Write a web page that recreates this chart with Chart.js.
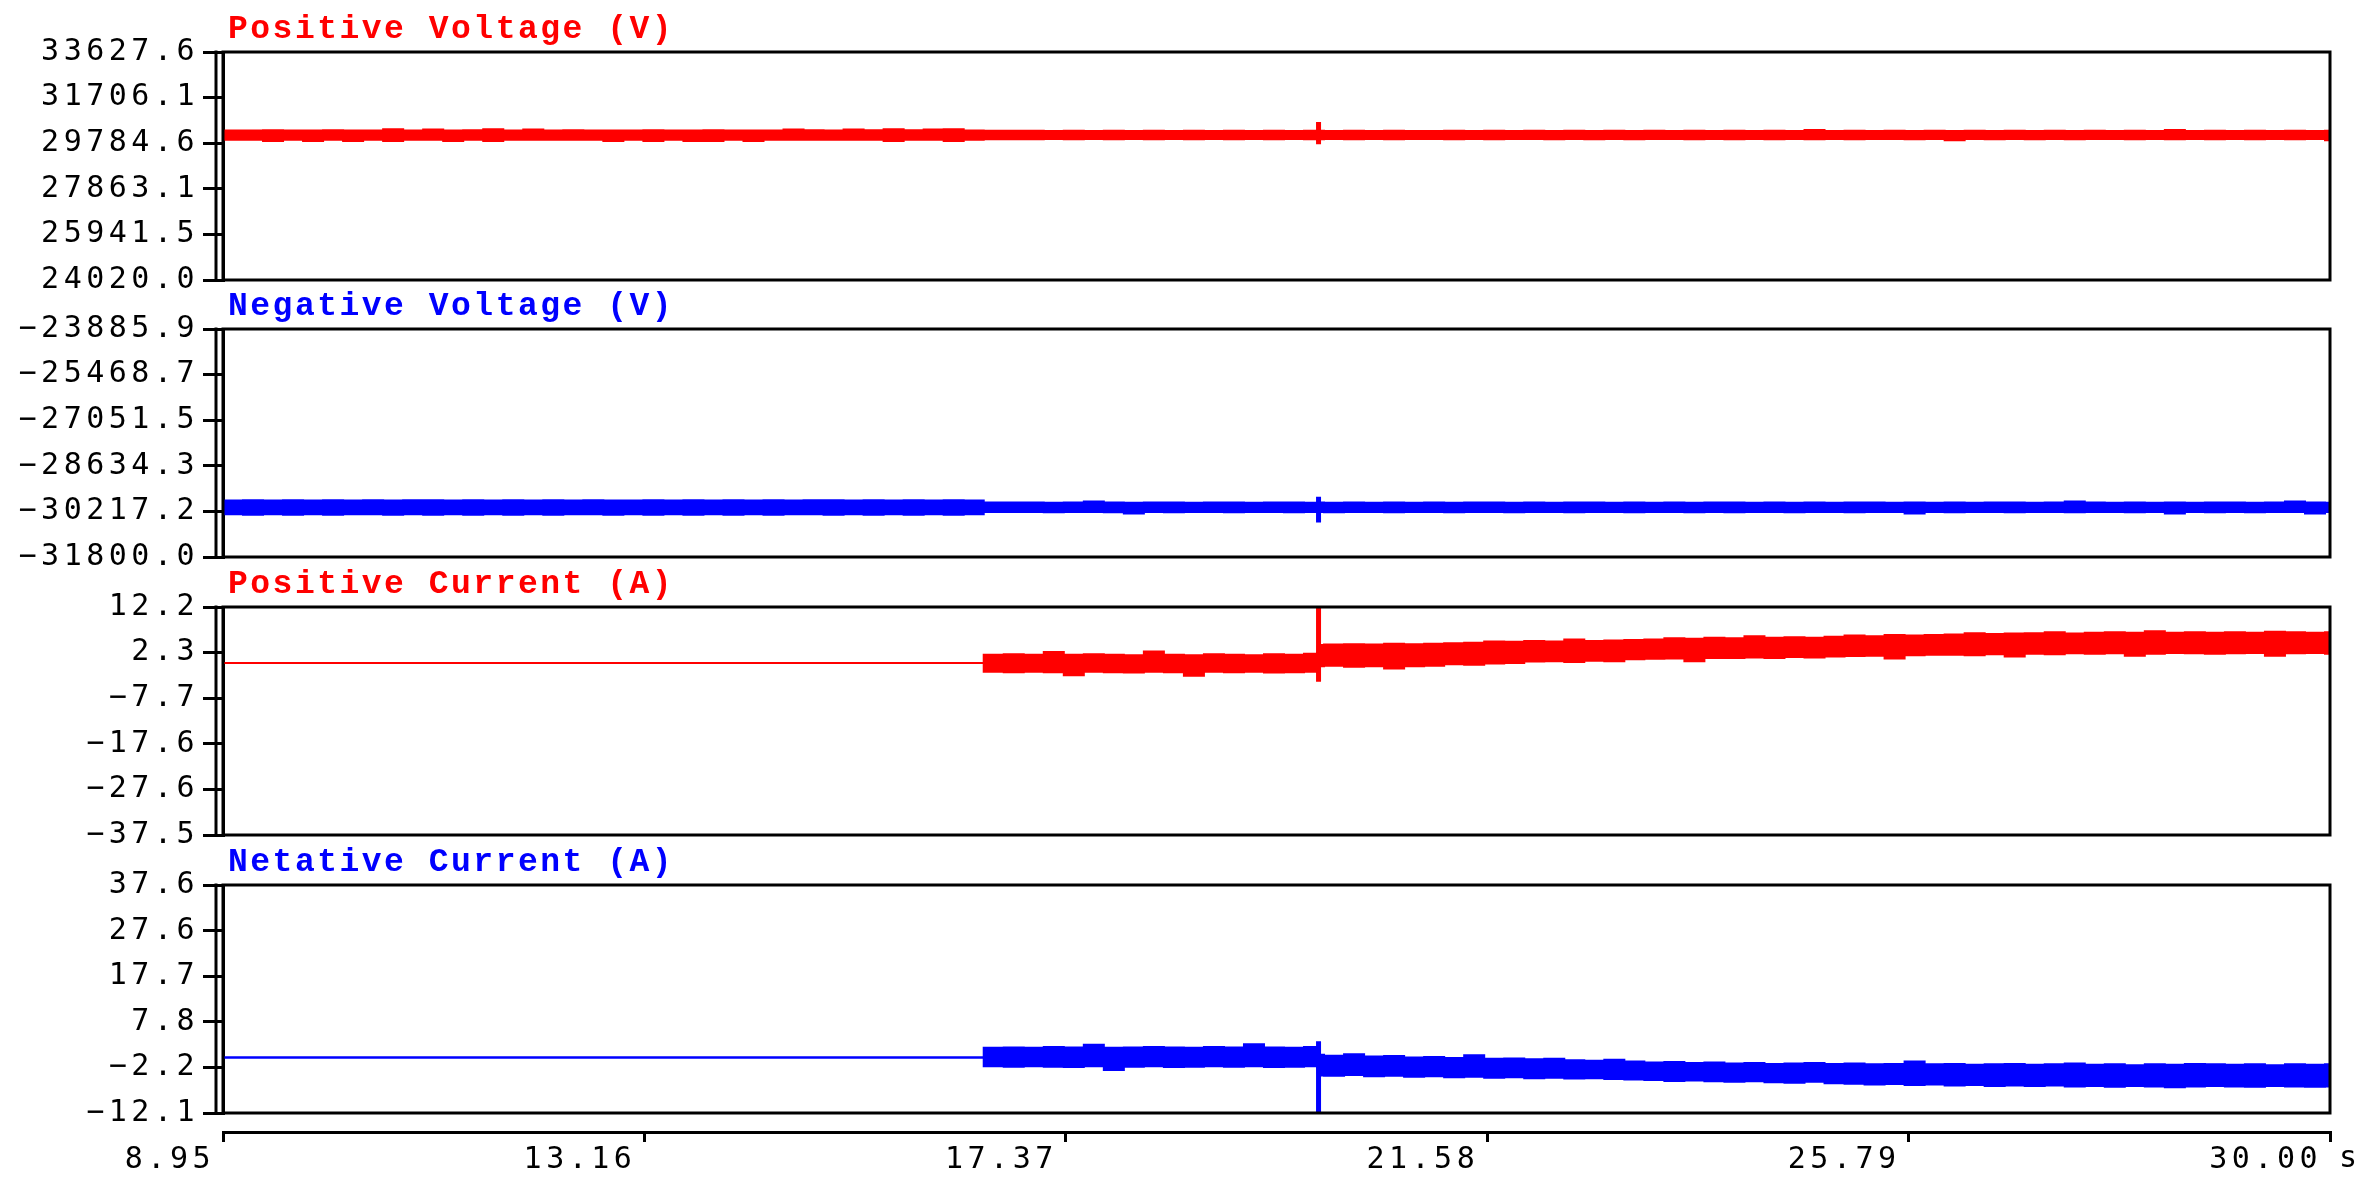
<!DOCTYPE html>
<html>
<head>
<meta charset="utf-8">
<script src="https://cdn.jsdelivr.net/npm/chart.js@4.4.0/dist/chart.umd.min.js"></script>
<style>
  body { margin: 0; background: #fff; }
  #wrap { position: relative; width: 2365px; height: 1192px; }
  canvas { position: absolute; left: 0; }
</style>
</head>
<body>
<div id="wrap">
  <canvas id="posV" width="2365" height="300" style="top:2px"></canvas>
  <canvas id="negV" width="2365" height="300" style="top:279px"></canvas>
  <canvas id="posI" width="2365" height="300" style="top:557px"></canvas>
  <canvas id="negI" width="2365" height="300" style="top:835px"></canvas>
  <canvas id="xAxis" width="2365" height="92" style="top:1100px"></canvas>
</div>
<script>
// sample times (s)
const times = [
  8.95, 9.15, 9.35, 9.55, 9.75, 9.95, 10.15, 10.35, 10.55, 10.75,
  10.95, 11.15, 11.35, 11.55, 11.75, 11.95, 12.15, 12.35, 12.55, 12.75,
  12.95, 13.15, 13.35, 13.55, 13.75, 13.95, 14.15, 14.35, 14.55, 14.75,
  14.95, 15.15, 15.35, 15.55, 15.75, 15.95, 16.15, 16.35, 16.55, 16.75,
  16.95, 17.15, 17.35, 17.55, 17.75, 17.95, 18.15, 18.35, 18.55, 18.75,
  18.95, 19.15, 19.35, 19.55, 19.75, 19.88, 19.91, 19.95, 20.15, 20.35, 20.55, 20.75,
  20.95, 21.15, 21.35, 21.55, 21.75, 21.95, 22.15, 22.35, 22.55, 22.75,
  22.95, 23.15, 23.35, 23.55, 23.75, 23.95, 24.15, 24.35, 24.55, 24.75,
  24.95, 25.15, 25.35, 25.55, 25.75, 25.95, 26.15, 26.35, 26.55, 26.75,
  26.95, 27.15, 27.35, 27.55, 27.75, 27.95, 28.15, 28.35, 28.55, 28.75,
  28.95, 29.15, 29.35, 29.55, 29.75, 29.95, 30.00
];

// Positive voltage envelope (V)
const posVHi = [
  30320, 30320, 30330, 30320, 30320, 30330, 30320, 30320, 30370, 30320,
  30360, 30320, 30330, 30370, 30320, 30360, 30320, 30330, 30320, 30320,
  30320, 30330, 30320, 30320, 30330, 30320, 30320, 30320, 30360, 30330,
  30320, 30360, 30330, 30370, 30330, 30360, 30370, 30320, 30310, 30310,
  30310, 30300, 30310, 30300, 30310, 30300, 30310, 30300, 30310, 30300,
  30310, 30300, 30310, 30300, 30310, 30640, 30310, 30300, 30310, 30300, 30310, 30300,
  30300, 30310, 30300, 30310, 30300, 30310, 30300, 30310, 30300, 30310,
  30300, 30310, 30300, 30310, 30300, 30310, 30300, 30310, 30300, 30340,
  30300, 30310, 30300, 30310, 30300, 30310, 30300, 30310, 30300, 30310,
  30300, 30310, 30300, 30310, 30300, 30310, 30300, 30340, 30300, 30310,
  30300, 30310, 30300, 30310, 30300, 30310, 30310
];
const posVLo = [
  29930, 29930, 29880, 29930, 29880, 29930, 29880, 29930, 29880, 29930,
  29930, 29880, 29930, 29880, 29930, 29930, 29930, 29930, 29930, 29880,
  29930, 29880, 29930, 29880, 29880, 29930, 29880, 29930, 29930, 29930,
  29930, 29930, 29930, 29880, 29930, 29930, 29880, 29930, 29950, 29950,
  29950, 29960, 29950, 29960, 29950, 29960, 29950, 29960, 29950, 29960,
  29950, 29960, 29950, 29960, 29950, 29780, 29950, 29960, 29950, 29960, 29950, 29960,
  29960, 29950, 29960, 29950, 29960, 29960, 29950, 29960, 29950, 29960,
  29950, 29960, 29960, 29950, 29960, 29950, 29960, 29950, 29960, 29950,
  29960, 29950, 29960, 29960, 29950, 29960, 29910, 29960, 29950, 29960,
  29950, 29960, 29950, 29960, 29960, 29950, 29960, 29950, 29960, 29950,
  29960, 29950, 29960, 29950, 29960, 29910, 29960
];

// Negative voltage envelope (V)
const negVHi = [
  -29840, -29830, -29840, -29830, -29840, -29830, -29840, -29830, -29840, -29830,
  -29830, -29840, -29830, -29840, -29830, -29840, -29830, -29840, -29830, -29840,
  -29840, -29830, -29840, -29830, -29840, -29830, -29840, -29830, -29840, -29830,
  -29830, -29840, -29830, -29840, -29830, -29840, -29830, -29840, -29910, -29910,
  -29910, -29920, -29910, -29870, -29910, -29920, -29910, -29910, -29920, -29910,
  -29910, -29920, -29910, -29910, -29920, -29740, -29910, -29920, -29910, -29920, -29910, -29920,
  -29910, -29920, -29910, -29910, -29920, -29910, -29920, -29910, -29910, -29920,
  -29910, -29920, -29910, -29920, -29910, -29910, -29920, -29910, -29920, -29910,
  -29920, -29910, -29910, -29920, -29910, -29920, -29910, -29920, -29910, -29910,
  -29920, -29910, -29870, -29910, -29920, -29910, -29920, -29910, -29920, -29910,
  -29910, -29920, -29910, -29870, -29910, -29920, -29910
];
const negVLo = [
  -30320, -30330, -30320, -30330, -30320, -30330, -30320, -30320, -30330, -30320,
  -30330, -30320, -30330, -30320, -30330, -30320, -30330, -30320, -30320, -30330,
  -30320, -30330, -30320, -30330, -30320, -30330, -30320, -30330, -30320, -30320,
  -30330, -30320, -30330, -30320, -30330, -30320, -30330, -30320, -30240, -30240,
  -30240, -30250, -30240, -30240, -30250, -30290, -30240, -30250, -30240, -30240,
  -30250, -30240, -30240, -30250, -30240, -30570, -30240, -30250, -30240, -30240, -30250, -30240,
  -30240, -30250, -30240, -30240, -30250, -30240, -30240, -30250, -30240, -30240,
  -30250, -30240, -30240, -30250, -30240, -30250, -30240, -30240, -30250, -30240,
  -30240, -30250, -30240, -30240, -30290, -30240, -30250, -30240, -30240, -30250,
  -30240, -30240, -30250, -30240, -30240, -30250, -30240, -30290, -30240, -30250,
  -30240, -30250, -30240, -30240, -30290, -30240, -30240
];

// Positive current envelope (A)
const posIHi = [
  0, 0, 0, 0, 0, 0, 0, 0, 0, 0,
  0, 0, 0, 0, 0, 0, 0, 0, 0, 0,
  0, 0, 0, 0, 0, 0, 0, 0, 0, 0,
  0, 0, 0, 0, 0, 0, 0, 0, 1.8, 1.9,
  1.8, 2.4, 1.8, 1.9, 1.8, 1.7, 2.5, 1.8, 1.7, 1.9,
  1.8, 1.7, 1.9, 1.8, 2.0, 12.2, 3.9, 4.0, 4.1, 4.0, 4.2, 4.1,
  4.2, 4.3, 4.4, 4.7, 4.6, 4.8, 4.7, 5.1, 4.8, 4.9,
  5.0, 5.1, 5.4, 5.3, 5.5, 5.4, 5.8, 5.5, 5.6, 5.5,
  5.7, 6.0, 5.8, 6.1, 6.0, 6.1, 6.2, 6.5, 6.3, 6.4,
  6.5, 6.7, 6.4, 6.6, 6.7, 6.6, 6.9, 6.6, 6.7, 6.6,
  6.7, 6.6, 6.8, 6.7, 6.6, 6.7, 6.7
];
const posILo = [
  0, 0, 0, 0, 0, 0, 0, 0, 0, 0,
  0, 0, 0, 0, 0, 0, 0, 0, 0, 0,
  0, 0, 0, 0, 0, 0, 0, 0, 0, 0,
  0, 0, 0, 0, 0, 0, 0, 0, -1.9, -2.0,
  -1.9, -2.0, -2.7, -1.9, -2.0, -2.1, -1.9, -2.0, -2.8, -1.9,
  -2.0, -1.9, -2.1, -2.0, -1.9, -3.9, -0.7, -0.6, -0.8, -0.7, -1.2, -0.7,
  -0.6, -0.3, -0.4, -0.1, 0.0, 0.3, 0.4, 0.2, 0.5, 0.4,
  0.8, 0.9, 1.0, 0.4, 1.1, 1.1, 1.2, 1.1, 1.3, 1.2,
  1.4, 1.5, 1.6, 1.0, 1.7, 1.8, 1.8, 1.7, 1.9, 1.4,
  2.0, 1.9, 2.1, 2.0, 2.1, 1.6, 2.0, 2.2, 2.1, 2.0,
  2.1, 2.2, 1.6, 2.1, 2.2, 2.0, 2.1
];

// Negative current envelope (A)
const negIHi = [
  0, 0, 0, 0, 0, 0, 0, 0, 0, 0,
  0, 0, 0, 0, 0, 0, 0, 0, 0, 0,
  0, 0, 0, 0, 0, 0, 0, 0, 0, 0,
  0, 0, 0, 0, 0, 0, 0, 0, 2.1, 2.2,
  2.1, 2.3, 2.2, 2.8, 2.1, 2.2, 2.3, 2.2, 2.1, 2.3,
  2.2, 2.9, 2.2, 2.1, 2.3, 3.3, 0.6, 0.4, 0.7, 0.2, 0.3, 0.0,
  0.1, -0.1, 0.5, -0.3, -0.2, -0.4, -0.3, -0.6, -0.7, -0.5,
  -0.9, -1.1, -1.0, -1.2, -1.1, -1.3, -1.2, -1.4, -1.3, -1.2,
  -1.4, -1.3, -1.5, -1.4, -0.9, -1.5, -1.4, -1.6, -1.5, -1.4,
  -1.6, -1.5, -1.3, -1.6, -1.5, -1.7, -1.5, -1.6, -1.4, -1.5,
  -1.6, -1.5, -1.7, -1.5, -1.6, -1.5, -1.5
];
const negILo = [
  0, 0, 0, 0, 0, 0, 0, 0, 0, 0,
  0, 0, 0, 0, 0, 0, 0, 0, 0, 0,
  0, 0, 0, 0, 0, 0, 0, 0, 0, 0,
  0, 0, 0, 0, 0, 0, 0, 0, -1.9, -2.0,
  -1.9, -2.0, -2.1, -1.9, -2.7, -2.0, -1.9, -2.1, -2.0, -1.9,
  -2.0, -1.9, -2.1, -2.0, -1.9, -12.1, -3.9, -4.0, -3.8, -4.1, -4.0, -4.2,
  -4.1, -4.3, -4.2, -4.4, -4.3, -4.5, -4.4, -4.6, -4.5, -4.7,
  -4.8, -4.9, -5.1, -5.0, -5.2, -5.3, -5.2, -5.4, -5.5, -5.3,
  -5.6, -5.7, -5.9, -5.8, -6.0, -5.9, -6.1, -6.0, -6.2, -6.1,
  -6.2, -6.1, -6.3, -6.2, -6.4, -6.2, -6.3, -6.5, -6.3, -6.2,
  -6.3, -6.4, -6.2, -6.3, -6.4, -6.3, -6.3
];

// axis ticks
const posVTicks = [24020.0, 25941.5, 27863.1, 29784.6, 31706.1, 33627.6];
const negVTicks = [-31800.0, -30217.2, -28634.3, -27051.5, -25468.7, -23885.9];
const posITicks = [-37.5, -27.6, -17.6, -7.7, 2.3, 12.2];
const negITicks = [-12.1, -2.2, 7.8, 17.7, 27.6, 37.6];
const timeTicks = [8.95, 13.16, 17.37, 21.58, 25.79, 30.00];

const RED = '#ff0000';
const BLUE = '#0000ff';
const tickFont = { family: "'DejaVu Sans Mono', monospace", size: 30 };

function fmt(v, d) {
    return v.toFixed(d).replace('-', '\u2212');
}

// frame, outer axis line, panel title
const decoPlugin = {
    id: 'deco',
    beforeDraw(chart) {
        chart.ctx.letterSpacing = '4.5px';
    },
    afterDraw(chart, args, opts) {
        const { ctx, chartArea: a } = chart;
        ctx.save();
        ctx.strokeStyle = '#000';
        ctx.lineWidth = 3;
        if (opts.box) {
            ctx.strokeRect(a.left, a.top, a.right - a.left, a.bottom - a.top);
            ctx.beginPath();
            ctx.moveTo(a.left - 7, a.top - 1.5);
            ctx.lineTo(a.left - 7, a.bottom + 1.5);
            ctx.stroke();
        }
        if (opts.title) {
            ctx.letterSpacing = '2.5px';
            ctx.font = "bold 33px 'Liberation Mono', monospace";
            ctx.fillStyle = opts.color;
            ctx.textAlign = 'left';
            ctx.textBaseline = 'alphabetic';
            ctx.fillText(opts.title, a.left + 5, a.top - 14);
        }
        if (opts.unit) {
            ctx.letterSpacing = '0px';
            ctx.font = "30px 'DejaVu Sans Mono', monospace";
            ctx.fillStyle = '#000';
            ctx.textAlign = 'left';
            ctx.textBaseline = 'middle';
            ctx.fillText(opts.unit, a.right + 9, a.bottom + 27);
        }
        ctx.restore();
    }
};

function createPanel(id, hi, lo, color, ticks, title) {
    const mk = arr => times.map((t, i) => ({ x: t, y: arr[i] }));
    return new Chart(document.getElementById(id), {
        type: 'line',
        data: {
            datasets: [
                { data: mk(hi), borderColor: color, backgroundColor: color, borderWidth: 2,
                  pointRadius: 0, stepped: true, fill: '+1' },
                { data: mk(lo), borderColor: color, backgroundColor: color, borderWidth: 2,
                  pointRadius: 0, stepped: true, fill: false }
            ]
        },
        options: {
            responsive: false,
            animation: false,
            events: [],
            layout: { padding: { top: 50, bottom: 18, left: 0, right: 35 } },
            plugins: {
                legend: { display: false },
                tooltip: { enabled: false },
                deco: { box: true, title: title, color: color }
            },
            scales: {
                x: { type: 'linear', min: 8.95, max: 30, display: false },
                y: {
                    min: ticks[0],
                    max: ticks[ticks.length - 1],
                    afterFit: s => { s.width = 223; },
                    afterBuildTicks: s => { s.ticks = ticks.map(v => ({ value: v })); },
                    grid: { drawOnChartArea: false, color: '#000', lineWidth: 3, tickLength: 20 },
                    border: { color: '#000', width: 3 },
                    ticks: { color: '#000', font: tickFont, padding: 4, callback: v => fmt(v, 1) }
                }
            }
        },
        plugins: [decoPlugin]
    });
}

createPanel('posV', posVHi, posVLo, RED, posVTicks, 'Positive Voltage (V)');
createPanel('negV', negVHi, negVLo, BLUE, negVTicks, 'Negative Voltage (V)');
createPanel('posI', posIHi, posILo, RED, posITicks, 'Positive Current (A)');
createPanel('negI', negIHi, negILo, BLUE, negITicks, 'Netative Current (A)');

// shared time axis
new Chart(document.getElementById('xAxis'), {
    type: 'line',
    data: { datasets: [] },
    options: {
        responsive: false,
        animation: false,
        events: [],
        layout: { padding: { top: 22, bottom: 0, left: 223, right: 35 } },
        plugins: {
            legend: { display: false },
            tooltip: { enabled: false },
            deco: { unit: 's' }
        },
        scales: {
            x: {
                type: 'linear',
                min: 8.95,
                max: 30,
                position: 'bottom',
                afterFit: s => { s.height = 60; },
                afterBuildTicks: s => { s.ticks = timeTicks.map(v => ({ value: v })); },
                grid: { drawOnChartArea: false, color: '#000', lineWidth: 3, tickLength: 10 },
                border: { color: '#000', width: 3 },
                ticks: { color: '#000', font: tickFont, padding: 0, align: 'end', maxRotation: 0,
                         autoSkip: false, labelOffset: -8, callback: v => v.toFixed(2) }
            },
            y: { display: false }
        }
    },
    plugins: [decoPlugin]
});
</script>
</body>
</html>
